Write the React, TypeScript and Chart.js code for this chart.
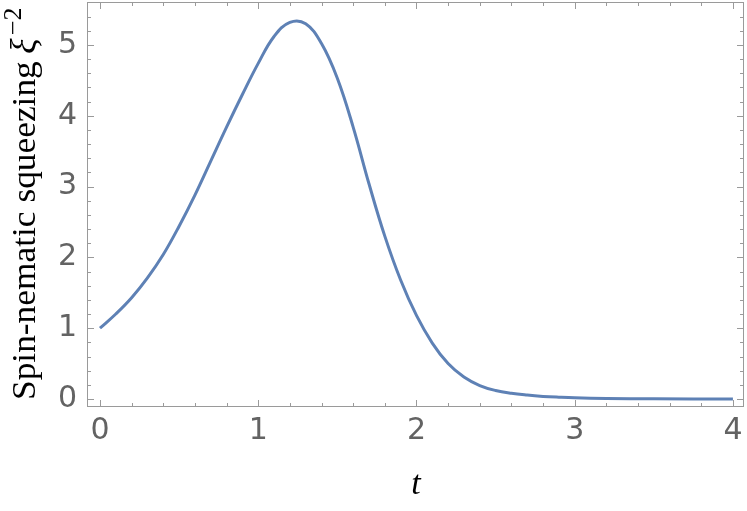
import React, { useEffect, useRef } from "react";
import { Chart, registerables } from "chart.js";

Chart.register(...registerables);

const tValues = [0, 0.1, 0.2, 0.3, 0.4, 0.5, 0.6, 0.7, 0.8, 0.9, 1.0, 1.1, 1.2, 1.3, 1.4, 1.5, 1.6, 1.7, 1.8, 1.9, 2.0, 2.1, 2.2, 2.3, 2.4, 2.5, 2.6, 2.7, 2.8, 2.9, 3.0, 3.2, 3.5, 4.0];
const squeezeValues = [1.0, 1.2, 1.43, 1.71, 2.04, 2.44, 2.88, 3.36, 3.84, 4.3, 4.74, 5.12, 5.32, 5.3, 5.02, 4.53, 3.84, 3.04, 2.3, 1.68, 1.18, 0.79, 0.5, 0.31, 0.19, 0.12, 0.08, 0.055, 0.037, 0.025, 0.016, 0.007, 0.002, 0.0];
const xTickValues = [0, 1, 2, 3, 4];
const yTickValues = [0, 1, 2, 3, 4, 5];

const FRAME = "#9a9a9a";
const TICK_TEXT = "#636363";

const framePlugin = {
  id: "frameTicks",
  afterDraw(chart: any) {
    const ctx = chart.ctx;
    const { left, right, top, bottom } = chart.chartArea;
    const xs = chart.scales.x;
    const ys = chart.scales.y;
    ctx.save();
    ctx.strokeStyle = FRAME;
    ctx.lineWidth = 1;
    ctx.strokeRect(left + 0.5, top + 0.5, right - left - 1, bottom - top - 1);
    ctx.beginPath();
    for (let i = 0; i <= 20; i++) {
      const v = i * 0.2;
      const major = i % 5 === 0;
      const len = major ? 7 : 4;
      const px = Math.round(xs.getPixelForValue(v)) + 0.5;
      ctx.moveTo(px, bottom);
      ctx.lineTo(px, bottom - len);
      ctx.moveTo(px, top);
      ctx.lineTo(px, top + len);
    }
    for (let i = 0; i <= 28; i++) {
      const v = i * 0.2;
      const major = i % 5 === 0;
      const len = major ? 7 : 4;
      const py = Math.round(ys.getPixelForValue(v)) + 0.5;
      if (py < top + 1) continue;
      ctx.moveTo(left, py);
      ctx.lineTo(left + len, py);
      ctx.moveTo(right, py);
      ctx.lineTo(right - len, py);
    }
    ctx.stroke();

    // y-axis title
    ctx.fillStyle = "#000";
    ctx.translate(35, 400);
    ctx.rotate(-Math.PI / 2);
    ctx.scale(1.04, 1);
    ctx.textBaseline = "alphabetic";
    ctx.textAlign = "left";
    ctx.font = "34px 'Liberation Serif'";
    const main = "Spin-nematic squeezing";
    ctx.fillText(main, 0, 0);
    let w = ctx.measureText(main).width + 7;
    ctx.font = "italic 35px 'Liberation Serif'";
    ctx.fillText("ξ", w, 0);
    w += ctx.measureText("ξ").width + 3;
    ctx.font = "25px 'Liberation Serif'";
    ctx.fillText("−2", w, -14);
    ctx.restore();

    // x-axis title
    ctx.save();
    ctx.fillStyle = "#000";
    ctx.font = "italic 34px 'Liberation Serif'";
    ctx.textAlign = "center";
    ctx.textBaseline = "alphabetic";
    ctx.fillText("t", 416, 494);
    ctx.restore();
  },
};

export default function App() {
  const ref = useRef<HTMLCanvasElement>(null);
  useEffect(() => {
    if (!ref.current) return;
    const chart = new Chart(ref.current, {
      type: "line",
      data: {
        datasets: [
          {
            data: tValues.map((t, i) => ({ x: t, y: squeezeValues[i] })),
            borderColor: "#5E81B5",
            borderWidth: 3,
            pointRadius: 0,
            tension: 0.4,
            fill: false,
          },
        ],
      },
      options: {
        animation: false,
        responsive: false,
        maintainAspectRatio: false,
        layout: { padding: { top: 2, right: 3, left: 0, bottom: 0 } },
        plugins: { legend: { display: false }, tooltip: { enabled: false } },
        scales: {
          x: {
            type: "linear",
            min: -0.082,
            max: 4.07,
            grid: { display: false, drawTicks: false },
            border: { display: false },
            afterBuildTicks: (s: any) => {
              s.ticks = xTickValues.map((v) => ({ value: v }));
            },
            afterFit: (s: any) => {
              s.height = 104;
              s.paddingLeft = 0;
              s.paddingRight = 0;
            },
            ticks: {
              color: TICK_TEXT,
              font: { family: "'DejaVu Sans'", size: 30 },
              padding: 6,
              maxRotation: 0,
              autoSkip: false,
              callback: (v: any) => String(v),
            },
          },
          y: {
            type: "linear",
            min: -0.113,
            max: 5.607,
            grid: { display: false, drawTicks: false },
            border: { display: false },
            afterBuildTicks: (s: any) => {
              s.ticks = yTickValues.map((v) => ({ value: v }));
            },
            afterFit: (s: any) => {
              s.width = 87;
              s.paddingTop = 0;
              s.paddingBottom = 0;
            },
            ticks: {
              color: TICK_TEXT,
              font: { family: "'DejaVu Sans'", size: 30 },
              padding: 10,
              autoSkip: false,
              callback: (v: any) => String(v),
            },
          },
        },
      },
      plugins: [framePlugin],
    });
    return () => chart.destroy();
  }, []);
  return (
    <div style={{ position: "absolute", left: 0, top: 0, width: 747, height: 511, background: "#fff" }}>
      <canvas ref={ref} width={747} height={511} style={{ width: 747, height: 511 }} />
    </div>
  );
}
